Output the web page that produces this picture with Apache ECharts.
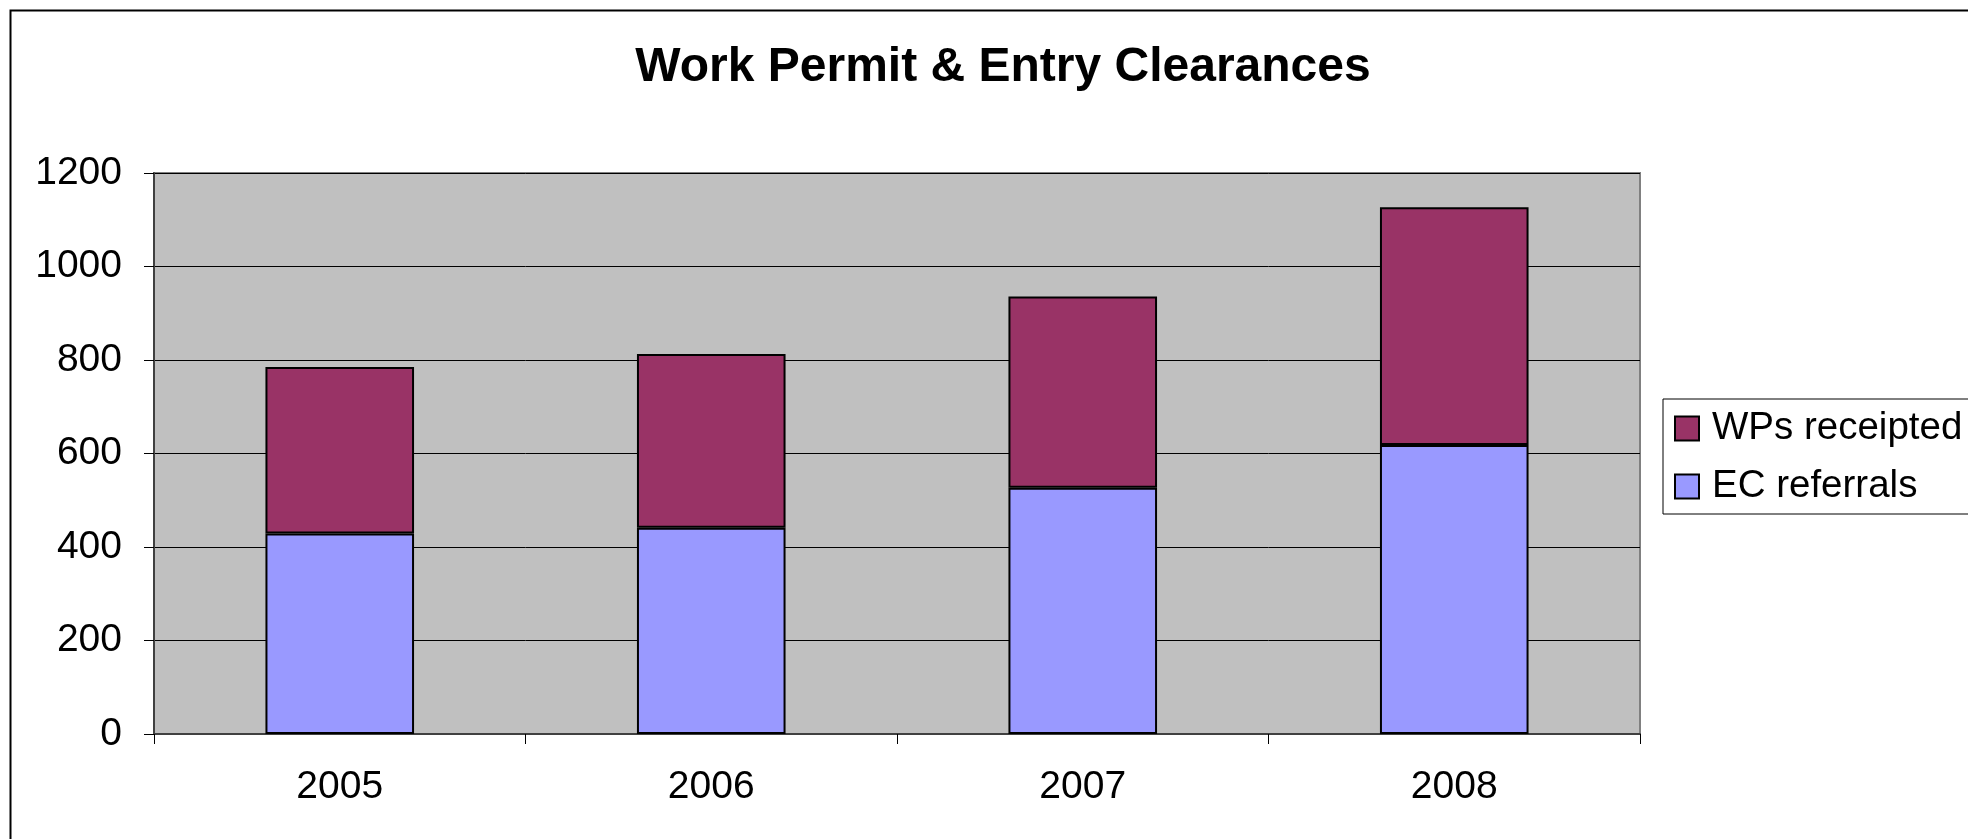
<!DOCTYPE html>
<html>
<head>
<meta charset="utf-8">
<title>Work Permit & Entry Clearances</title>
<script src="https://cdn.jsdelivr.net/npm/echarts@6/dist/echarts.min.js"></script>
<style>
    html, body { margin: 0; padding: 0; background: #fff; }
    #main { width: 1968px; height: 839px; }
</style>
</head>
<body>
<div id="main"></div>
<script>
// data
var years = ['2005', '2006', '2007', '2008'];
var ecReferrals = [429, 441, 527, 618];
var wpsReceipted = [356, 372, 409, 509];
var yTicks = { min: 0, max: 1200, step: 200 };

var font = 'Liberation Sans, Arial, sans-serif';

var myChart = echarts.init(document.getElementById('main'));

var option = {
    backgroundColor: '#fff',
    animation: false,
    graphic: [{
        type: 'rect',
        left: 8,
        top: 8,
        shape: { width: 2000, height: 900 },
        style: { fill: 'none', stroke: '#000', lineWidth: 2 },
        z: -10
    }],
    title: {
        text: 'Work Permit & Entry Clearances',
        left: 998,
        textAlign: 'center',
        top: 39,
        textStyle: { fontFamily: font, fontSize: 48, fontWeight: 'bold', color: '#000' }
    },
    legend: {
        orient: 'vertical',
        left: 1663,
        top: 399,
        padding: [10, 40, 8, 11],
        itemGap: 19,
        itemWidth: 24,
        itemHeight: 24,
        icon: 'rect',
        borderColor: '#000',
        borderWidth: 1,
        backgroundColor: '#fff',
        data: ['WPs receipted', 'EC referrals'],
        textStyle: { fontFamily: font, fontSize: 38.5, color: '#000', padding: [0, 0, 0, 8] }
    },
    grid: {
        left: 154,
        right: 328,
        top: 173,
        bottom: 105,
        show: true,
        backgroundColor: '#c0c0c0',
        borderColor: '#808080',
        borderWidth: 2
    },
    xAxis: {
        type: 'category',
        data: years,
        axisLine: { lineStyle: { color: '#404040', width: 2 } },
        axisTick: { show: true, length: 10, lineStyle: { color: '#000', width: 1 } },
        axisLabel: { margin: 34, fontFamily: font, fontSize: 39, color: '#000' },
        splitLine: { show: false }
    },
    yAxis: {
        type: 'value',
        min: yTicks.min,
        max: yTicks.max,
        interval: yTicks.step,
        axisLine: { show: true, lineStyle: { color: '#404040', width: 2 } },
        axisTick: { show: true, length: 10, lineStyle: { color: '#000', width: 1 } },
        axisLabel: {
            margin: 32, fontFamily: font, fontSize: 39, color: '#000',
            formatter: function (v) { return String(v); }
        },
        splitLine: { lineStyle: { color: '#000', width: 1 } }
    },
    series: [
        {
            name: 'EC referrals',
            type: 'bar',
            stack: 'total',
            barWidth: '40%',
            data: ecReferrals,
            itemStyle: { color: '#9999ff', borderColor: '#000', borderWidth: 2 }
        },
        {
            name: 'WPs receipted',
            type: 'bar',
            stack: 'total',
            barWidth: '40%',
            data: wpsReceipted,
            itemStyle: { color: '#993366', borderColor: '#000', borderWidth: 2 }
        }
    ]
};

myChart.setOption(option);
</script>
</body>
</html>
